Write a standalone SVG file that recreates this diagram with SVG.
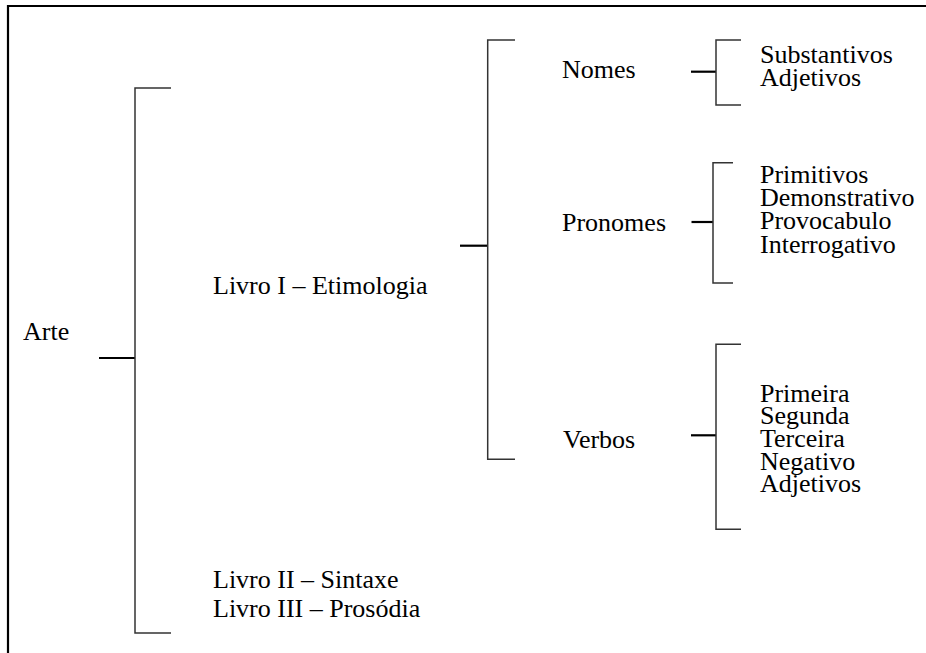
<svg xmlns="http://www.w3.org/2000/svg" width="926" height="653" viewBox="0 0 926 653">
<style>
text{font-family:"Liberation Serif","Times New Roman",serif;font-size:26px;fill:#000}
.br{fill:none;stroke:#333;stroke-width:1.5}
.st{fill:none;stroke:#000;stroke-width:2.2}
.fr{fill:none;stroke:#000;stroke-width:2.2}
</style>
<rect width="926" height="653" fill="#fff"/>
<path class="fr" d="M8,653 V6 H926"/>
<g id="connectors">
<path class="st" d="M99,358 H135"/>
<path class="br" d="M171,88 H135 V633 H171"/>
<path class="st" d="M460,245.7 H487.7"/>
<path class="br" d="M515,40 H487.7 V459.3 H515"/>
<path class="st" d="M691,71.7 H716"/>
<path class="br" d="M741,40 H716 V105 H741"/>
<path class="st" d="M691.5,222 H713"/>
<path class="br" d="M733,162.7 H713 V283 H733"/>
<path class="st" d="M691,435.3 H716"/>
<path class="br" d="M741,344.3 H716 V529.3 H741"/>
</g>
<g id="arte"><text x="23" y="340">Arte</text></g>
<g id="livro1"><text x="213" y="294">Livro I – Etimologia</text></g>
<g id="livro2"><text x="213" y="588">Livro II – Sintaxe</text></g>
<g id="livro3"><text x="213" y="617">Livro III – Prosódia</text></g>
<g id="nomes"><text x="562" y="78">Nomes</text></g>
<g id="pronomes"><text x="562" y="231">Pronomes</text></g>
<g id="verbos"><text x="563" y="448">Verbos</text></g>
<g id="nomes-list">
<text x="760" y="63">Substantivos</text>
<text x="760" y="86">Adjetivos</text>
</g>
<g id="pronomes-list">
<text x="760" y="183">Primitivos</text>
<text x="760" y="206">Demonstrativo</text>
<text x="760" y="229">Provocabulo</text>
<text x="760" y="253">Interrogativo</text>
</g>
<g id="verbos-list">
<text x="760" y="402">Primeira</text>
<text x="760" y="424">Segunda</text>
<text x="760" y="447">Terceira</text>
<text x="760" y="470">Negativo</text>
<text x="760" y="492">Adjetivos</text>
</g>
</svg>
